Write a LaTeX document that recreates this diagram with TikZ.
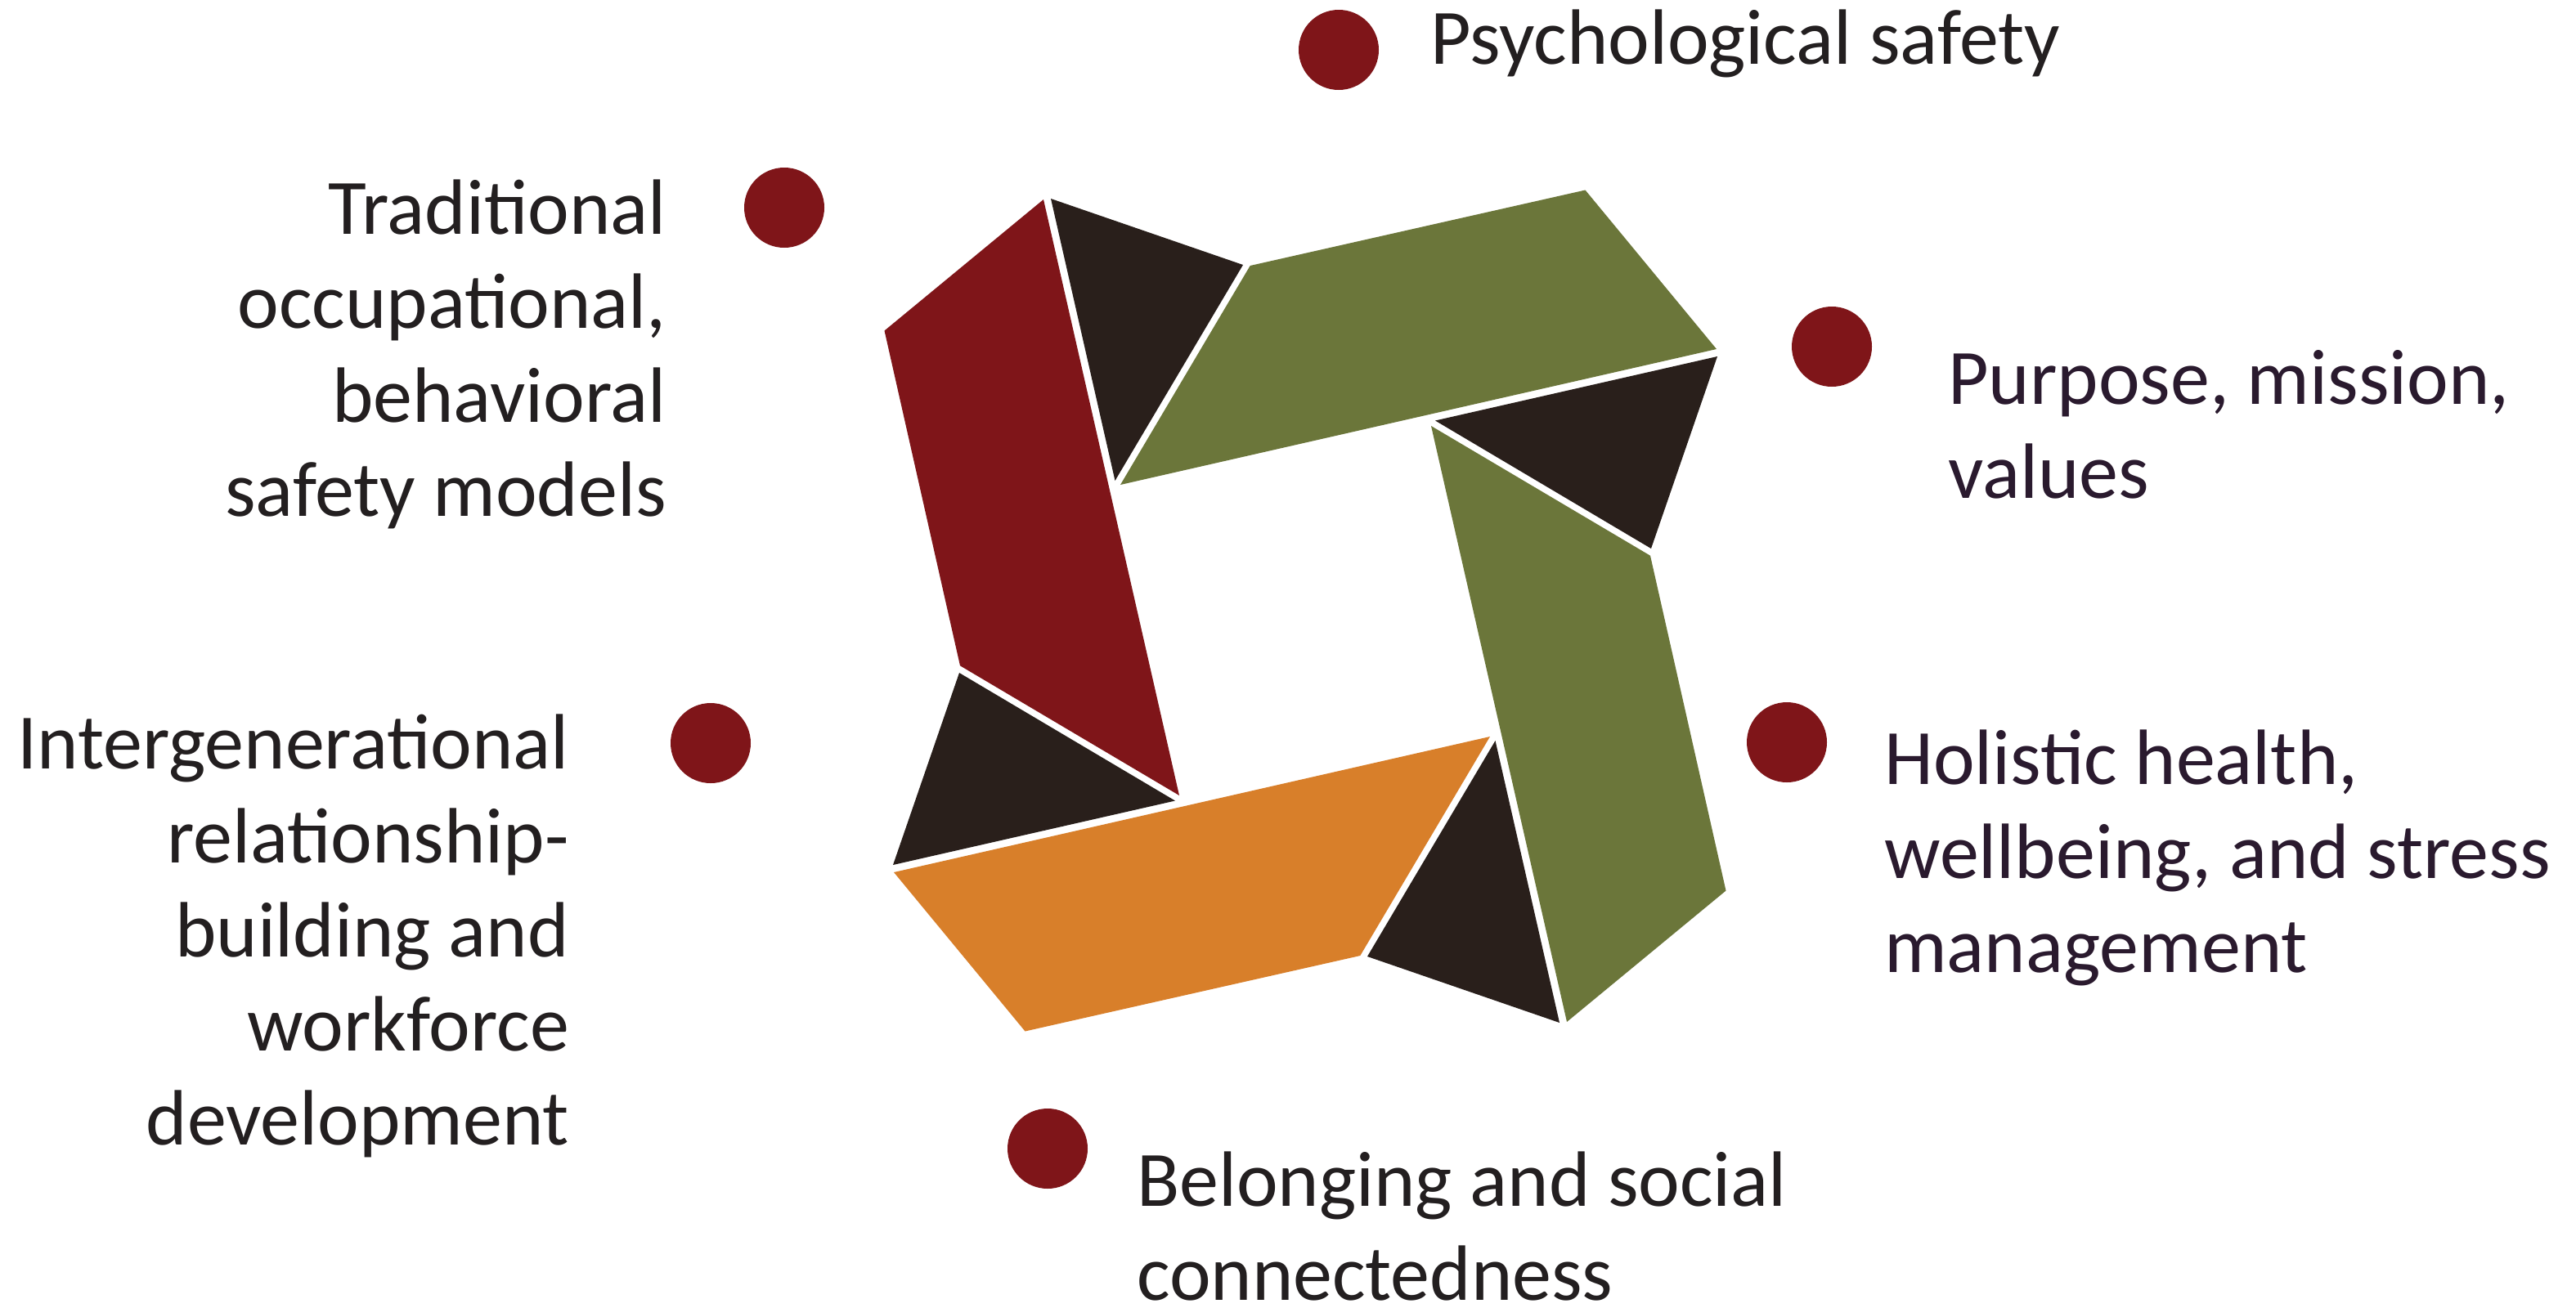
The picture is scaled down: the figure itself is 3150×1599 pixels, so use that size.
\documentclass[tikz,border=0pt]{standalone}
\usepackage{fontspec}
\setmainfont{Carlito}
\definecolor{redc}{HTML}{7F1519}
\definecolor{darkc}{HTML}{291F1B}
\definecolor{greenc}{HTML}{6B763A}
\definecolor{orangec}{HTML}{D87F2A}
\definecolor{txt}{HTML}{231F20}
\definecolor{txtp}{HTML}{2A1A2E}
\begin{document}
\begin{tikzpicture}[x=1pt,y=-1pt,
  dot/.style={circle,fill=redc,minimum size=98pt,inner sep=0pt},
  lbl/.style={inner sep=0pt,font=\fontsize{96}{115}\selectfont,text=txt},
  lblp/.style={lbl,text=txtp}]
\useasboundingbox (0,0) rectangle (3150,1599);
\coordinate (C) at (1596,747);
\foreach \ang/\col in {0/redc,-90/greenc,180/greenc,90/orangec}{
  \begin{scope}[rotate around={\ang:(C)}]
    \fill[\col] (1276,244) -- (1081.5,404.5) -- (1174,814.3) -- (1442,973) -- cycle;
    \fill[darkc] (1285,243) -- (1520,324) -- (1363.5,588) -- cycle;
  \end{scope}
}
% bullets
\node[dot] (d1) at (1637,61) {};
\node[dot] (d2) at (959,254) {};
\node[dot] (d3) at (2240,424) {};
\node[dot] (d4) at (869,909) {};
\node[dot] (d5) at (2185,908) {};
\node[dot] (d6) at (1281,1405) {};
% labels
\node[lbl,anchor=base west] (t1) at (1749,78) {Psychological safety};
\node[lbl,anchor=base east] (t2) at (815,286) {\begin{tabular}[t]{@{}r@{}}Traditional\\occupational,\\behavioral\\safety models\end{tabular}};
\node[lblp,anchor=base west] (t3) at (2382,494) {\begin{tabular}[t]{@{}l@{}}Purpose, mission,\\values\end{tabular}};
\node[lbl,anchor=base east] (t4) at (696,940) {\begin{tabular}[t]{@{}r@{}}Intergenerational\\relationship-\\building and\\workforce\\development\end{tabular}};
\node[lblp,anchor=base west] (t5) at (2304,959) {\begin{tabular}[t]{@{}l@{}}Holistic health,\\wellbeing, and stress\\management\end{tabular}};
\node[lbl,anchor=base west] (t6) at (1390,1475) {\begin{tabular}[t]{@{}l@{}}Belonging and social\\connectedness\end{tabular}};
\end{tikzpicture}
\end{document}
